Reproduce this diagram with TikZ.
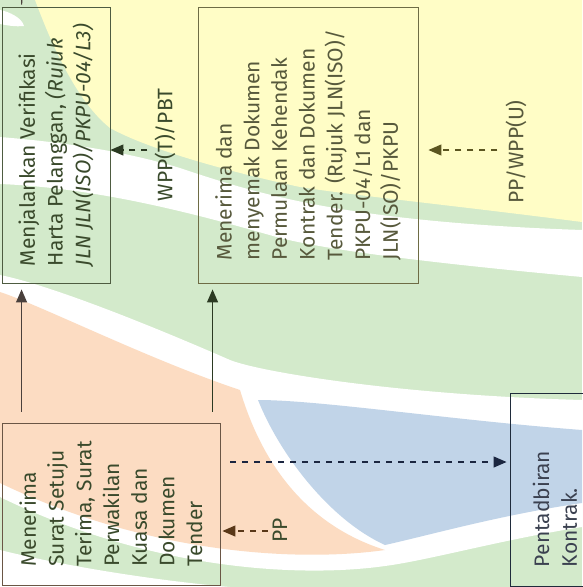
\documentclass[tikz,border=0pt]{standalone}
\usepackage{fontspec}
\setmainfont{Fira Sans}
\usetikzlibrary{arrows.meta,calc,positioning}

\definecolor{fondjaune}{HTML}{FFFDC6}
\definecolor{fondvert}{HTML}{D3EACB}
\definecolor{fondorange}{HTML}{FCDCC2}
\definecolor{fondbleu}{HTML}{C1D4E8}
\definecolor{vertfonce}{HTML}{3A4A2C}
\definecolor{olive}{HTML}{6E6C45}
\definecolor{olivetexte}{HTML}{57593C}
\definecolor{brun}{HTML}{6A5645}
\definecolor{marine}{HTML}{1F2B3B}
\definecolor{gristexte}{HTML}{3B4150}
\definecolor{flgris}{HTML}{4A403C}
\definecolor{flvert}{HTML}{2B3A22}
\definecolor{flolive}{HTML}{5B5520}
\definecolor{flbrun}{HTML}{5A3818}
\definecolor{flmarine}{HTML}{1B2640}

\begin{document}
\begin{tikzpicture}[x=1pt, y=-1pt,
		boite/.style={draw, rotate=90, align=left, inner sep=0pt, line width=0.9pt,
			font=\fontsize{21}{27.7}\selectfont},
		etiq/.style={rotate=90, inner sep=2pt, font=\fontsize{21}{25}\selectfont},
		fleche/.style={-{Triangle[length=13pt,width=11pt]}, line width=1.2pt},
		tirets/.style={fleche, dash pattern=on 6pt off 6pt}
		]
		\useasboundingbox (0,0) rectangle (582,587);
		
		% Le fond
		\fill[fondvert] (0,0) rectangle (582,587);
		\fill[fondjaune] (35,0) -- (582,0) -- (582,222) .. controls (450,205) and (350,195) .. (300,187)
			.. controls (230,172) and (150,150) .. (110,128) .. controls (75,100) and (50,40) .. (35,0) -- cycle;
		\fill[white] (0,137) .. controls (60,142) and (120,150) .. (180,168) .. controls (260,195) and (350,222) .. (582,230)
			-- (582,277) .. controls (420,262) and (330,250) .. (280,238) .. controls (200,215) and (100,188) .. (0,184) -- cycle;
		\fill[white] (0,10) .. controls (10,12) and (22,18) .. (24,26) .. controls (15,27) and (5,25) .. (0,24) -- cycle;
		\fill[white] (0,275) .. controls (50,285) and (150,325) .. (230,360) .. controls (260,372) and (400,395) .. (582,400)
			-- (582,527) .. controls (500,540) and (430,560) .. (385,566) .. controls (300,578) and (150,570) .. (0,497) -- cycle;
		\fill[fondorange] (0,292) .. controls (40,305) and (150,360) .. (240,390) .. controls (255,440) and (290,520) .. (385,550)
			.. controls (300,562) and (150,555) .. (0,483) -- cycle;
		\fill[fondbleu] (258,400) .. controls (320,400) and (450,420) .. (582,430) -- (582,503)
			.. controls (500,515) and (430,535) .. (385,545) .. controls (330,520) and (280,455) .. (258,400) -- cycle;
		\fill[white] (0,550) .. controls (60,565) and (150,580) .. (230,587) -- (0,587) -- cycle;
		
		% Les boites
		\node[boite, draw=vertfonce!90, text=vertfonce, minimum width=276pt, minimum height=108pt] (verif) at (56,145)
			{Menjalankan Verifikasi\\Harta Pelanggan, \textit{(Rujuk}\\\textit{JLN JLN(ISO)/PKPU-04/L3)}};
		\node[boite, draw=olive, text=olivetexte, minimum width=276pt, minimum height=220pt] (semak) at (308,145)
			{Menerima dan\\menyemak Dokumen\\Permulaan Kehendak\\Kontrak dan Dokumen\\Tender. (Rujuk JLN(ISO)/\\PKPU-04/L1 dan\\JLN(ISO)/PKPU};
		\node[boite, draw=brun, text=vertfonce, minimum width=162pt, minimum height=218pt] (terima) at (111,504)
			{Menerima\\Surat Setuju\\Terima, Surat\\Perwakilan\\Kuasa dan\\Dokumen\\Tender};
		\node[boite, draw=marine, text=gristexte, minimum width=193pt, minimum height=90pt, text width=155pt] (kontrak) at (555,489.5)
			{Pentadbiran\\Kontrak.};
		
		% Les etiquettes
		\node[etiq, text=vertfonce] (wpp) at (165,145) {WPP(T)/PBT};
		\node[etiq, text=olivetexte] (ppw) at (516,152) {PP/WPP(U)};
		\node[etiq, text=vertfonce] (pp) at (280,530) {PP};
		
		% Les fleches
		\coordinate (entree) at (22,-10);
		\draw[line width=1.2pt, flgris, shorten >=2pt] (entree) -- ([xshift=20pt]verif.north east);
		\draw[fleche, flgris, shorten <=11pt, shorten >=6pt] ([xshift=20pt]terima.north east) -- ([xshift=20pt]verif.north west);
		\draw[fleche, flvert, shorten <=11pt, shorten >=6pt] ([xshift=211pt]terima.north east) -- ([xshift=15pt]semak.north west);
		\draw[tirets, flvert, shorten <=5pt] ([yshift=-5pt]wpp.north) -- ([yshift=-5pt]verif.south);
		\draw[tirets, flolive, shorten <=6pt, shorten >=10pt] ([yshift=2pt]ppw.north) -- ([yshift=-5pt]semak.south);
		\draw[tirets, flbrun, shorten <=3pt, shorten >=2pt] ([yshift=-1pt]pp.north) -- ([yshift=-27pt]terima.south);
		\draw[tirets, flmarine, shorten <=10pt, shorten >=3pt] ([yshift=42pt]terima.south) -- ([yshift=27.5pt]kontrak.north);
	\end{tikzpicture}
\end{document}
